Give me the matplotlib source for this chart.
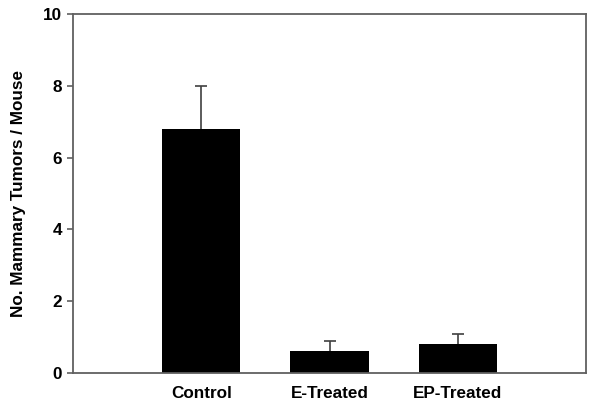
import matplotlib
matplotlib.use("Agg")
import matplotlib.pyplot as plt

categories = ["Control", "E-Treated", "EP-Treated"]
values = [6.8, 0.6, 0.8]
errors_up = [1.2, 0.3, 0.3]
yticks = [0, 2, 4, 6, 8, 10]

plt.rcParams['font.family'] = ['Liberation Sans', 'DejaVu Sans']

fig = plt.figure(figsize=(6.0, 4.09), dpi=100)
ax = fig.add_axes([73/600, 1 - 373/409, (586-73)/600, (373-14)/409])

pos = [1, 2, 3]
ax.bar(pos, values, width=0.61, color='black', zorder=2)
eb = ax.errorbar(pos, values, yerr=[[0]*3, errors_up], fmt='none', ecolor='#404040',
                 elinewidth=1.2, capsize=4.5, capthick=1.2, zorder=1)
caplines = eb[1]
if len(caplines) > 0:
    caplines[0].set_visible(False)

ax.set_xlim(0, 4)
ax.set_ylim(0, 10)
ax.set_yticks(yticks)
ax.set_yticklabels([str(t) for t in yticks], fontsize=12.3, fontweight='bold')
ax.set_xticks(pos)
ax.set_xticklabels(categories, fontsize=12.3, fontweight='bold')
ax.tick_params(axis='x', length=0, pad=9)
ax.tick_params(axis='y', length=4, width=1.2, color='#606060', pad=4)
for s in ax.spines.values():
    s.set_color('#606060')
    s.set_linewidth(1.3)
ax.set_ylabel("No. Mammary Tumors / Mouse", fontsize=12.3, fontweight='bold', labelpad=12)

fig.savefig("out.png", dpi=100)
